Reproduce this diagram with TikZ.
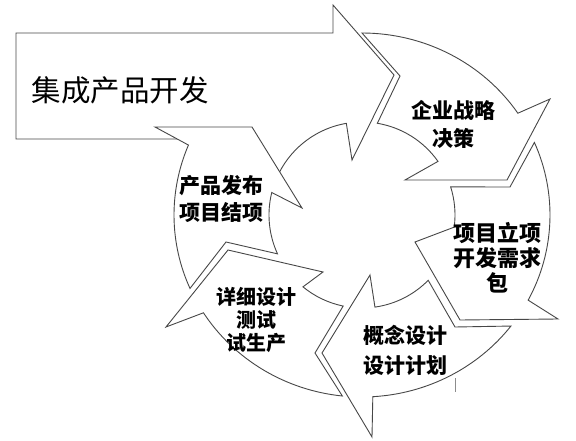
\documentclass[tikz,border=0pt]{standalone}
\usepackage{fontspec}
\newfontfamily\cjk{Noto Sans CJK SC}
\usetikzlibrary{calc}
\begin{document}
\begin{tikzpicture}[x=1pt,y=1pt,
  seg/.style={draw=black!72, line width=0.9pt, fill=white, line join=miter, miter limit=20},
  lbl/.style={align=center, text=black, inner sep=0pt}]
\fill[white] (0,0) rectangle (576,440);
\useasboundingbox (0,0) rectangle (576,440);
\coordinate (C) at (362,225);
% big arrow
\draw[seg] (16,407) -- (333,407) -- (333,435) -- (394,365) -- (352,280)
  -- ($(C)+(99.7:93pt)$) arc[start angle=99.7, end angle=152.9, radius=93pt]
  -- (230,301) -- (16,301) -- cycle;
% E
\draw[seg] ($(C)+(203.8:188pt and 182pt)$) arc[start angle=203.8, end angle=157.4, x radius=188pt, y radius=182pt]
  -- (155,313) -- (252,313) -- (302,232)
  -- ($(C)+(166:93pt)$) arc[start angle=166, end angle=204.7, radius=93pt]
  -- (226,198) -- cycle;
% A
\draw[seg] ($(C)+(90:188pt and 182pt)$) arc[start angle=90, end angle=34, x radius=188pt, y radius=182pt]
  -- (550,341) -- (507,260) -- (405,260)
  -- ($(C)+(35.2:93pt)$) arc[start angle=35.2, end angle=80.5, radius=93pt]
  -- (400,364) -- cycle;
% B
\draw[seg] ($(C)+(23.5:188pt and 182pt)$) arc[start angle=23.5, end angle=-27.9, x radius=188pt, y radius=182pt]
  -- (558,121) -- (460,120) -- (415,198)
  -- ($(C)+(-7.5:93pt)$) arc[start angle=-7.5, end angle=17.6, radius=93pt]
  -- (510,253) -- cycle;
% C
\draw[seg] ($(C)+(-37.6:188pt and 182pt)$) arc[start angle=-37.6, end angle=-86.7, x radius=188pt, y radius=182pt]
  -- (372,3) -- (322,87) -- (370,165)
  -- ($(C)+(-82:93pt)$) arc[start angle=-82, end angle=-44.6, radius=93pt]
  -- (455,113) -- cycle;
% D
\draw[seg] ($(C)+(-96:188pt and 182pt)$) arc[start angle=-96, end angle=-147.5, x radius=188pt, y radius=182pt]
  -- (166,113) -- (228,190) -- (323,168)
  -- ($(C)+(-129.4:93pt)$) arc[start angle=-129.4, end angle=-101.7, radius=93pt]
  -- (315,87) -- cycle;
% small tick
\coordinate (t1) at (455,62);
\coordinate (t2) at (455,48);
\draw[black!45, line width=0.6pt] (t1) -- (t2);
% labels
\node[lbl, font={\cjk\fontsize{29.5}{32}\selectfont}] (title) at (120,350) {集成产品开发};
\node[lbl, font={\cjk\bfseries\fontsize{21}{28}\selectfont}] (la) at (453,316) {企业战略\\决策};
\node[lbl, font={\cjk\bfseries\fontsize{22}{25}\selectfont}] (lb) at (497,182) {项目立项\\开发需求\\包};
\node[lbl, font={\cjk\bfseries\fontsize{21}{30}\selectfont}] (lc) at (405,90) {概念设计\\设计计划};
\node[lbl, font={\cjk\bfseries\fontsize{20}{23}\selectfont}] (ld) at (256,120) {详细设计\\测试\\试生产};
\node[lbl, font={\cjk\bfseries\fontsize{21}{27}\selectfont}] (le) at (221,241.5) {产品发布\\项目结项};
\end{tikzpicture}
\end{document}
